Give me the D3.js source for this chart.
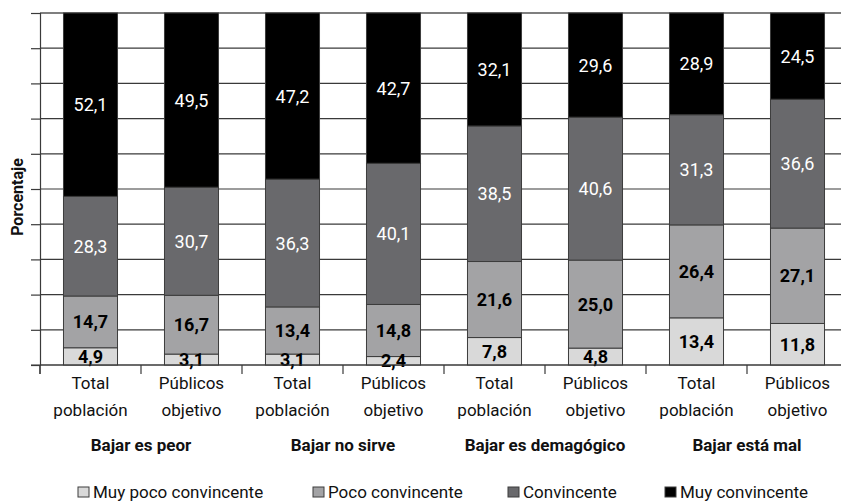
<!DOCTYPE html>
<html><head><meta charset="utf-8">
<script src="https://cdn.jsdelivr.net/npm/d3@7"></script>
<style>body{margin:0;background:#fff;}svg{display:block;font-family:Roboto, "Noto Sans", sans-serif;}</style>
</head><body>
<svg id="chart" width="841" height="501"></svg>
<script>
const categories = ["c1","c2","c3","c4","c5","c6","c7","c8"];
const tickLines = [["Total","población"],["Públicos","objetivo"],["Total","población"],["Públicos","objetivo"],["Total","población"],["Públicos","objetivo"],["Total","población"],["Públicos","objetivo"]];
const groups = ["Bajar es peor","Bajar no sirve","Bajar es demagógico","Bajar está mal"];
const seriesNames = ["Muy poco convincente","Poco convincente","Convincente","Muy convincente"];
const muyPoco = [4.9, 3.1, 3.1, 2.4, 7.8, 4.8, 13.4, 11.8];
const poco = [14.7, 16.7, 13.4, 14.8, 21.6, 25.0, 26.4, 27.1];
const convincente = [28.3, 30.7, 36.3, 40.1, 38.5, 40.6, 31.3, 36.6];
const muyConv = [52.1, 49.5, 47.2, 42.7, 32.1, 29.6, 28.9, 24.5];
const yTicks = [0,10,20,30,40,50,60,70,80,90,100];

const colors = ["#d9d9d9","#a3a3a5","#69696c","#000000"];
const labelColors = ["#000","#000","#fff","#fff"];
const labelWeights = ["bold","bold","normal","normal"];

const seriesVals = [muyPoco, poco, convincente, muyConv];
const table = categories.map((c,i)=>{const o={cat:c}; seriesNames.forEach((s,j)=>o[s]=seriesVals[j][i]); return o;});
const stack = d3.stack().keys(seriesNames)(table);

const svg = d3.select("#chart");
const x0 = 40, stepW = 101;
const x = d3.scaleBand().domain(categories).range([x0, x0 + stepW*categories.length]).paddingInner(0.465).paddingOuter(0.2325);
const y = d3.scaleLinear().domain([0,100]).range([365,13]);

// gridlines
svg.append("g").selectAll("line").data(yTicks).join("line")
  .attr("x1", x0).attr("x2", 841).attr("y1", d=>y(d)).attr("y2", d=>y(d))
  .attr("stroke", d=> d===100 ? "#000" : "#3a3a3a").attr("stroke-width", 1.2);

// y axis
const yAxis = svg.append("g").attr("transform",`translate(${x0},0)`)
  .call(d3.axisLeft(y).tickValues(yTicks).tickSize(9).tickFormat(""));
yAxis.select(".domain").attr("stroke","#3a3a3a").attr("stroke-width",1.2);
yAxis.selectAll(".tick line").attr("stroke","#3a3a3a").attr("stroke-width",1.2);
svg.append("line").attr("x1",x0).attr("x2",x0).attr("y1",y(0)).attr("y2",y(0)+9).attr("stroke","#3a3a3a").attr("stroke-width",1.2);

// bars
const layers = svg.append("g").selectAll("g").data(stack).join("g").attr("fill",(d,i)=>colors[i]);
layers.selectAll("rect").data(d=>d).join("rect")
  .attr("x", d=>x(d.data.cat)).attr("width", x.bandwidth())
  .attr("y", d=>y(d[1])).attr("height", d=>y(d[0])-y(d[1]))
  .attr("stroke","#3c3c3c").attr("stroke-width",1);

// labels
stack.forEach((layer,i)=>{
  svg.append("g").selectAll("text").data(layer).join("text")
    .attr("x", d=>x(d.data.cat)+x.bandwidth()/2)
    .attr("y", d=>(y(d[0])+y(d[1]))/2)
    .attr("dy","0.36em").attr("text-anchor","middle")
    .attr("font-size",18).attr("font-weight",labelWeights[i]).attr("fill",labelColors[i])
    .text(d=>d3.format(".1f")(d[1]-d[0]).replace(".",","));
});

// x axis
const xAxisG = svg.append("g");
xAxisG.append("line").attr("x1",31).attr("x2",841).attr("y1",y(0)).attr("y2",y(0)).attr("stroke","#3a3a3a").attr("stroke-width",1.2);
xAxisG.selectAll("line.t").data(categories).join("line").attr("class","t")
  .attr("x1",d=>x(d)-x.step()*x.paddingInner()/2).attr("x2",d=>x(d)-x.step()*x.paddingInner()/2)
  .attr("y1",y(0)).attr("y2",y(0)+9).attr("stroke","#3a3a3a").attr("stroke-width",1.2);
xAxisG.selectAll("g.lab").data(categories).join("g").attr("class","lab")
  .each(function(d,i){
    const g=d3.select(this);
    tickLines[i].forEach((t,k)=>g.append("text").attr("x",x(d)+x.bandwidth()/2).attr("y",383+k*27).attr("dy","0.36em")
      .attr("text-anchor","middle").attr("font-size",17).attr("fill","#111").text(t));
  });
svg.append("g").selectAll("text").data(groups).join("text")
  .attr("x",(d,i)=>(x(categories[2*i])+x(categories[2*i+1])+x.bandwidth())/2)
  .attr("y",445).attr("dy","0.36em").attr("text-anchor","middle").attr("font-size",17).attr("font-weight","bold").attr("fill","#111")
  .text(d=>d);

// y title
svg.append("text").attr("transform",`translate(17,${y(50)+8}) rotate(-90)`).attr("text-anchor","middle").attr("dy","0.36em")
  .attr("font-size",16).attr("font-weight","bold").attr("fill","#111").text("Porcentaje");

// legend
const legX = [78, 313, 508, 665];
const leg = svg.append("g").selectAll("g").data(seriesNames).join("g").attr("transform",(d,i)=>`translate(${legX[i]},492)`);
leg.append("rect").attr("x",0).attr("y",-5).attr("width",11).attr("height",10).attr("fill",(d,i)=>colors[i]).attr("stroke","#3c3c3c").attr("stroke-width",1);
leg.append("text").attr("x",15).attr("y",0).attr("dy","0.36em").attr("font-size",17).attr("fill","#111").text(d=>d);
</script>
</body></html>
